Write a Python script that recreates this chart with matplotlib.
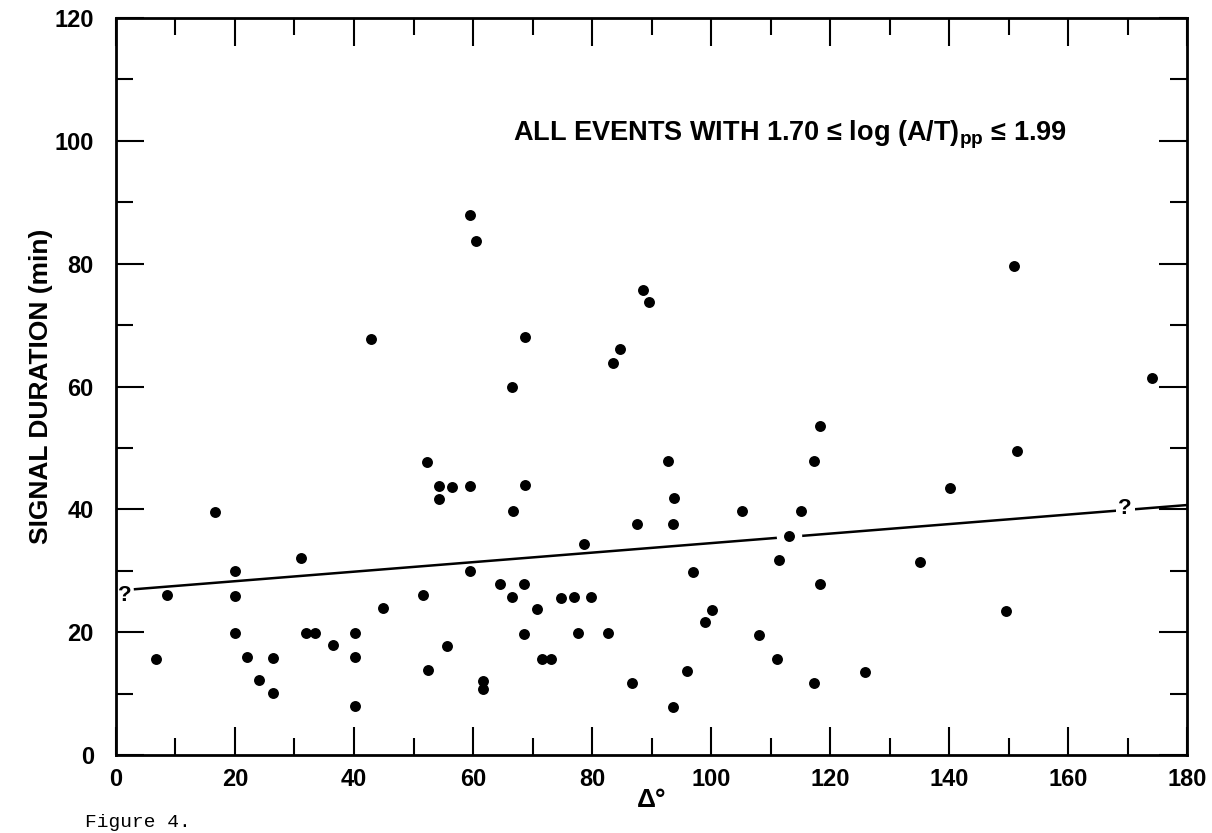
import numpy as np
import matplotlib
matplotlib.use('Agg')
import matplotlib.pyplot as plt
from matplotlib.ticker import MultipleLocator

plt.rcParams['font.family'] = ['Liberation Sans', 'DejaVu Sans']
plt.rcParams['font.weight'] = 'bold'
plt.rcParams['axes.labelweight'] = 'bold'
plt.rcParams['mathtext.fontset'] = 'custom'
plt.rcParams['mathtext.rm'] = 'Liberation Sans:bold'
plt.rcParams['mathtext.bf'] = 'Liberation Sans:bold'

# epicentral distance (deg) and signal duration (min)
delta = [42.8, 52.3, 54.3, 56.4, 59.5, 54.3, 16.7, 31.1, 20.0, 59.5,
         8.6, 20.0, 51.6, 44.8, 20.0, 32.0, 33.4, 36.4, 40.2, 55.6,
         6.7, 22.1, 26.4, 40.2, 24.1, 52.5, 61.6, 61.6, 26.4, 40.2,
         59.5, 60.5, 88.5, 89.6, 68.7, 84.7, 83.5, 66.6, 118.3, 92.7,
         117.3, 68.7, 66.7, 93.8, 93.6, 87.6, 105.2, 115.1, 113.1, 78.7,
         111.5, 118.3, 97.0, 64.5, 68.6, 66.5, 74.8, 76.9, 79.9, 70.8,
         100.2, 99.0, 68.6, 77.7, 82.7, 108.1, 71.6, 73.1, 111.1, 95.9,
         125.9, 86.7, 117.3, 93.6, 174.1, 151.5, 140.1, 135.2, 149.5, 151.0]
duration = [67.8, 47.7, 43.8, 43.7, 43.8, 41.7, 39.6, 32.0, 29.9, 29.9,
            26.0, 25.9, 26.0, 24.0, 19.9, 19.9, 19.9, 17.9, 19.9, 17.8,
            15.7, 16.0, 15.8, 16.0, 12.2, 13.8, 12.1, 10.7, 10.1, 8.0,
            87.9, 83.7, 75.7, 73.8, 68.0, 66.1, 63.9, 59.9, 53.6, 47.8,
            47.8, 43.9, 39.7, 41.8, 37.6, 37.6, 39.7, 39.8, 35.7, 34.4,
            31.7, 27.8, 29.8, 27.8, 27.8, 25.8, 25.6, 25.8, 25.8, 23.8,
            23.6, 21.7, 19.7, 19.8, 19.8, 19.5, 15.6, 15.6, 15.6, 13.7,
            13.5, 11.7, 11.7, 7.8, 61.4, 49.5, 43.5, 31.5, 23.5, 79.6]

# fitted trend line end points
fit_x = [3.2, 180]
fit_y = [27.0, 40.7]

delta = np.array(delta)
duration = np.array(duration)

fig = plt.figure(figsize=(12.12, 8.33), dpi=100)
ax = fig.add_axes([0.0957, 0.0936, 0.8837, 0.8848])

ax.plot(fit_x, fit_y, color='black', lw=1.8, zorder=2)

# points sitting on the line get a white halo (line is broken there)
on_line = np.abs(duration - np.interp(delta, fit_x, fit_y)) < 1.0
ax.scatter(delta[on_line], duration[on_line], s=300, color='white', zorder=3)
ax.scatter(delta, duration, s=62, color='black', linewidths=0, zorder=4)

ax.text(1.5, 26.0, '?', fontsize=16, ha='center', va='center', zorder=5)
ax.text(169.6, 40.1, '?', fontsize=16, ha='center', va='center', zorder=5,
        bbox=dict(facecolor='white', edgecolor='none', pad=2))

ax.text(66.7, 101, r'ALL EVENTS WITH 1.70 ≤ log (A/T)$_{\mathrm{pp}}$ ≤ 1.99',
        fontsize=19.5, ha='left', va='center')

ax.set_xlim(0, 180)
ax.set_ylim(0, 120)
ax.xaxis.set_major_locator(MultipleLocator(20))
ax.xaxis.set_minor_locator(MultipleLocator(10))
ax.yaxis.set_major_locator(MultipleLocator(20))
ax.yaxis.set_minor_locator(MultipleLocator(10))
ax.tick_params(which='both', direction='in', top=True, right=True, width=1.5, labelsize=17)
ax.tick_params(which='major', length=20)
ax.tick_params(which='minor', length=12)
ax.tick_params(axis='y', which='major', pad=16)
ax.tick_params(axis='x', which='major', pad=9)
for s in ax.spines.values():
    s.set_linewidth(2)

ax.set_ylabel('SIGNAL DURATION (min)', fontsize=19, va='center')
ax.yaxis.set_label_coords(-0.070, 0.5)
ax.set_xlabel('Δ°', fontsize=19, va='center')
ax.xaxis.set_label_coords(0.5, -0.061)

fig.text(0.07, 0.003, 'Figure 4.', family='Liberation Mono', weight='normal',
         fontsize=14, ha='left', va='bottom')

fig.savefig('out.png', dpi=100)
